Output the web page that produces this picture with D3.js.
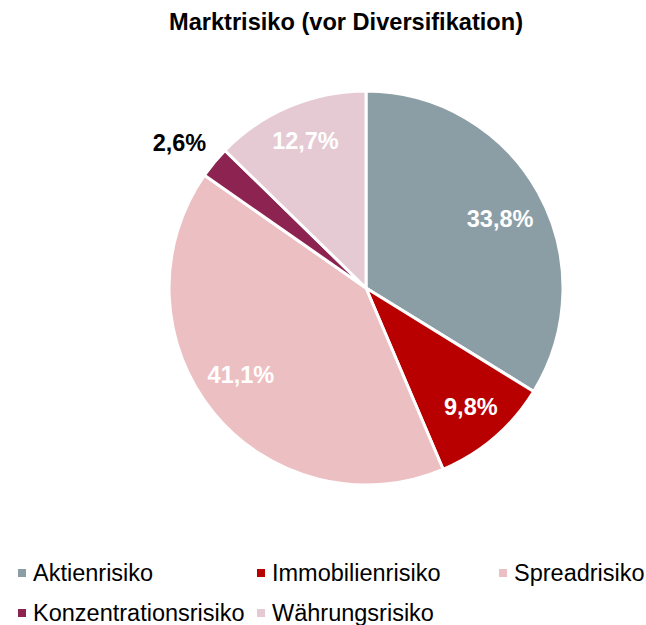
<!DOCTYPE html>
<html><head><meta charset="utf-8">
<script src="https://cdn.jsdelivr.net/npm/d3@7"></script>
<style>body{margin:0;background:#fff}svg{display:block}text{font-family:"Liberation Sans",Arial,sans-serif}</style>
</head><body>
<svg id="c" width="646" height="625"></svg>
<script>
const categories = ["Aktienrisiko","Immobilienrisiko","Spreadrisiko","Konzentrationsrisiko","Währungsrisiko"];
const values = [33.8, 9.8, 41.1, 2.6, 12.7];
const labels = ["33,8%","9,8%","41,1%","2,6%","12,7%"];
const colors = ["#8c9ea5","#b80000","#ecc0c2","#8d2350","#e5cad3"];
const labelColors = ["#fff","#fff","#fff","#000","#fff"];
// label placement style: radius as fraction of pie radius, angular nudge (deg)
const labelRadiusFrac = [0.765, 0.805, 0.773, 1.20, 0.808];
const labelAngleNudge = [2.0, -0.7, 4.3, -1.7, 0.5];

const svg = d3.select("#c");
const cx = 366, cy = 288, R = 197;

svg.append("text").attr("x",346).attr("y",30).attr("text-anchor","middle")
  .attr("font-size",23.6).attr("font-weight","bold").attr("fill","#000")
  .text("Marktrisiko (vor Diversifikation)");

const data = categories.map((c,i)=>({cat:c,value:values[i],label:labels[i],color:colors[i],lc:labelColors[i],rf:labelRadiusFrac[i],an:labelAngleNudge[i]}));
const pie = d3.pie().value(d=>d.value).sort(null);
const arcs = pie(data);
const arc = d3.arc().innerRadius(0).outerRadius(R);

const g = svg.append("g").attr("transform",`translate(${cx},${cy})`);
g.selectAll("path").data(arcs).join("path")
  .attr("d",arc).attr("fill",d=>d.data.color)
  .attr("stroke","#fff").attr("stroke-width",3).attr("stroke-linejoin","round");

function labelPos(d){
  const a = (d.startAngle + d.endAngle)/2 + d.data.an*Math.PI/180;
  const r = R*d.data.rf;
  return [r*Math.sin(a), -r*Math.cos(a)];
}
g.selectAll("text.lbl").data(arcs).join("text").attr("class","lbl")
  .attr("transform",d=>`translate(${labelPos(d)})`)
  .attr("text-anchor","middle").attr("dy","0.35em")
  .attr("font-size",23.5).attr("font-weight","bold")
  .attr("fill",d=>d.data.lc).text(d=>d.data.label);

// legend
const colX = [18, 257, 499];
const rowY = [573, 613];
const lg = svg.append("g");
data.forEach((d,i)=>{
  const x = colX[i%3], y = rowY[Math.floor(i/3)];
  lg.append("rect").attr("x",x).attr("y",y-4).attr("width",8).attr("height",8).attr("fill",d.color);
  lg.append("text").attr("x",x+15).attr("y",y).attr("dy","0.35em")
    .attr("font-size",23.5).attr("fill","#000").text(d.cat);
});
</script>
</body></html>
